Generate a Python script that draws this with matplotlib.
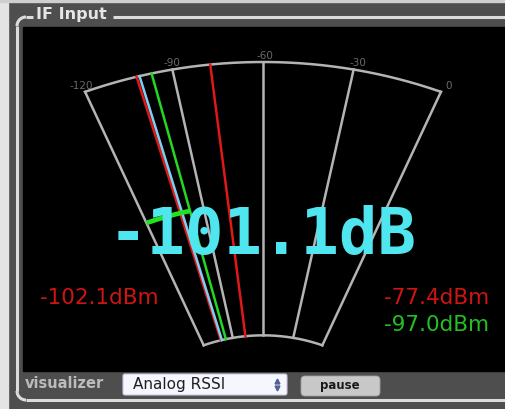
import numpy as np
import matplotlib.pyplot as plt
from matplotlib.patches import Rectangle, FancyBboxPatch

# meter data
scale_ticks = [-120, -90, -60, -30, 0]
scale_labels = ['-120', '-90', '-60', '-30', '0']
current_db = -101.1
min_dbm = -102.1
max_dbm = -77.4
avg_dbm = -97.0
needle_values = [min_dbm, current_db, avg_dbm, max_dbm]
needle_colors = ['#e01818', '#7fd0f0', '#22d822', '#e01818']
bar_range = [-120, avg_dbm]

# meter geometry (pixels)
cx, cy = 263, 472
Rx, Ry = 475, 410
half_span = 22.0
inner = 1 / 3


def to_xy(v, t):
    phi = np.radians(-half_span + (np.asarray(v) + 120) / 120 * 2 * half_span)
    return cx + t * Rx * np.sin(phi), cy - t * Ry * np.cos(phi)


fig = plt.figure(figsize=(5.05, 4.09), dpi=100)
ax = fig.add_axes([0, 0, 1, 1])
ax.set_xlim(0, 505)
ax.set_ylim(409, 0)
ax.axis('off')

# frame and panel
ax.add_patch(Rectangle((0, 0), 505, 409, color='#4e4e4e', zorder=0))
ax.add_patch(Rectangle((0, 0), 8, 409, color='#e4e4e4', zorder=1))
ax.add_patch(Rectangle((0, 0), 505, 2, color='#cfcfcf', zorder=1))
ax.add_patch(Rectangle((23, 27), 482, 344, color='black', zorder=1))

fr = dict(color='#dcdcdc', lw=2.2, zorder=2, solid_capstyle='butt')
a = np.linspace(np.pi, 1.5 * np.pi, 20)
ax.plot([33, 26], [17, 17], **fr)
ax.plot(26 + 9 * np.cos(a), 26 + 9 * np.sin(a), **fr)
ax.plot([17, 17], [26, 391], **fr)
a2 = np.linspace(0.5 * np.pi, np.pi, 20)
ax.plot(26 + 9 * np.cos(a2), 391 + 9 * np.sin(a2), **fr)
ax.plot([26, 505], [400, 400], **fr)
ax.plot([113, 505], [17, 17], **fr)
ax.text(36, 15, 'IF Input', color='#e6e6e6', fontsize=11.5, fontweight='bold',
        va='center', ha='left', zorder=3)

# sector outline
vals = np.linspace(-120, 0, 200)
gray = dict(color='#b4b4b4', lw=1.8, zorder=3)
ax.plot(*to_xy(vals, 1.0), **gray)
ax.plot(*to_xy(vals, inner), **gray)
for v in scale_ticks:
    xs, ys = to_xy([v, v], np.array([inner, 1.0]))
    ax.plot(xs, ys, **gray)
for v, lab in zip(scale_ticks, scale_labels):
    x, y = to_xy(v, 1.03)
    ax.text(x + 2, y + 6, lab, color='#6a6a6a', fontsize=7.5, ha='center',
            va='center', zorder=3)

# needles
for v, c in zip(needle_values, needle_colors):
    xs, ys = to_xy([v, v], np.array([inner, 1.0]))
    ax.plot(xs, ys, color=c, lw=1.8, zorder=4)

# green range bar
bv = np.linspace(bar_range[0], bar_range[1], 50)
ax.plot(*to_xy(bv, 0.655), color='#22e022', lw=3.4, zorder=4, solid_capstyle='butt')

# readouts
ax.text(263, 236, '%.1fdB' % current_db, color='#4fe6f0', fontsize=46,
        fontweight='bold', family='DejaVu Sans Mono', ha='center', va='center', zorder=5)
ax.text(40, 298, '%.1fdBm' % min_dbm, color='#d01414', fontsize=15.5,
        ha='left', va='center', zorder=5)
ax.text(489, 298, '%.1fdBm' % max_dbm, color='#d01414', fontsize=15.5,
        ha='right', va='center', zorder=5)
ax.text(489, 325, '%.1fdBm' % avg_dbm, color='#22c022', fontsize=15.5,
        ha='right', va='center', zorder=5)

# bottom controls
ax.text(25, 384, 'visualizer', color='#bcbcbc', fontsize=10.5, fontweight='bold',
        ha='left', va='center', zorder=5)
ax.add_patch(FancyBboxPatch((123, 374), 164, 21, boxstyle='round,pad=0,rounding_size=2',
                            fc='#f6f6ff', ec='#c8c8e0', lw=0.8, zorder=4))
ax.text(133, 384.5, 'Analog RSSI', color='#202020', fontsize=11, ha='left',
        va='center', zorder=5)
ax.plot([277], [381], marker='^', ms=3.5, color='#506090', zorder=5)
ax.plot([277], [388], marker='v', ms=3.5, color='#506090', zorder=5)
ax.add_patch(FancyBboxPatch((301, 376), 79, 20, boxstyle='round,pad=0,rounding_size=4',
                            fc='#c8c8c8', ec='#a0a0a0', lw=0.6, zorder=4))
ax.text(340, 386, 'pause', color='#1a1a1a', fontsize=8.5, fontweight='bold',
        ha='center', va='center', zorder=5)

fig.savefig('out.png', dpi=100)
